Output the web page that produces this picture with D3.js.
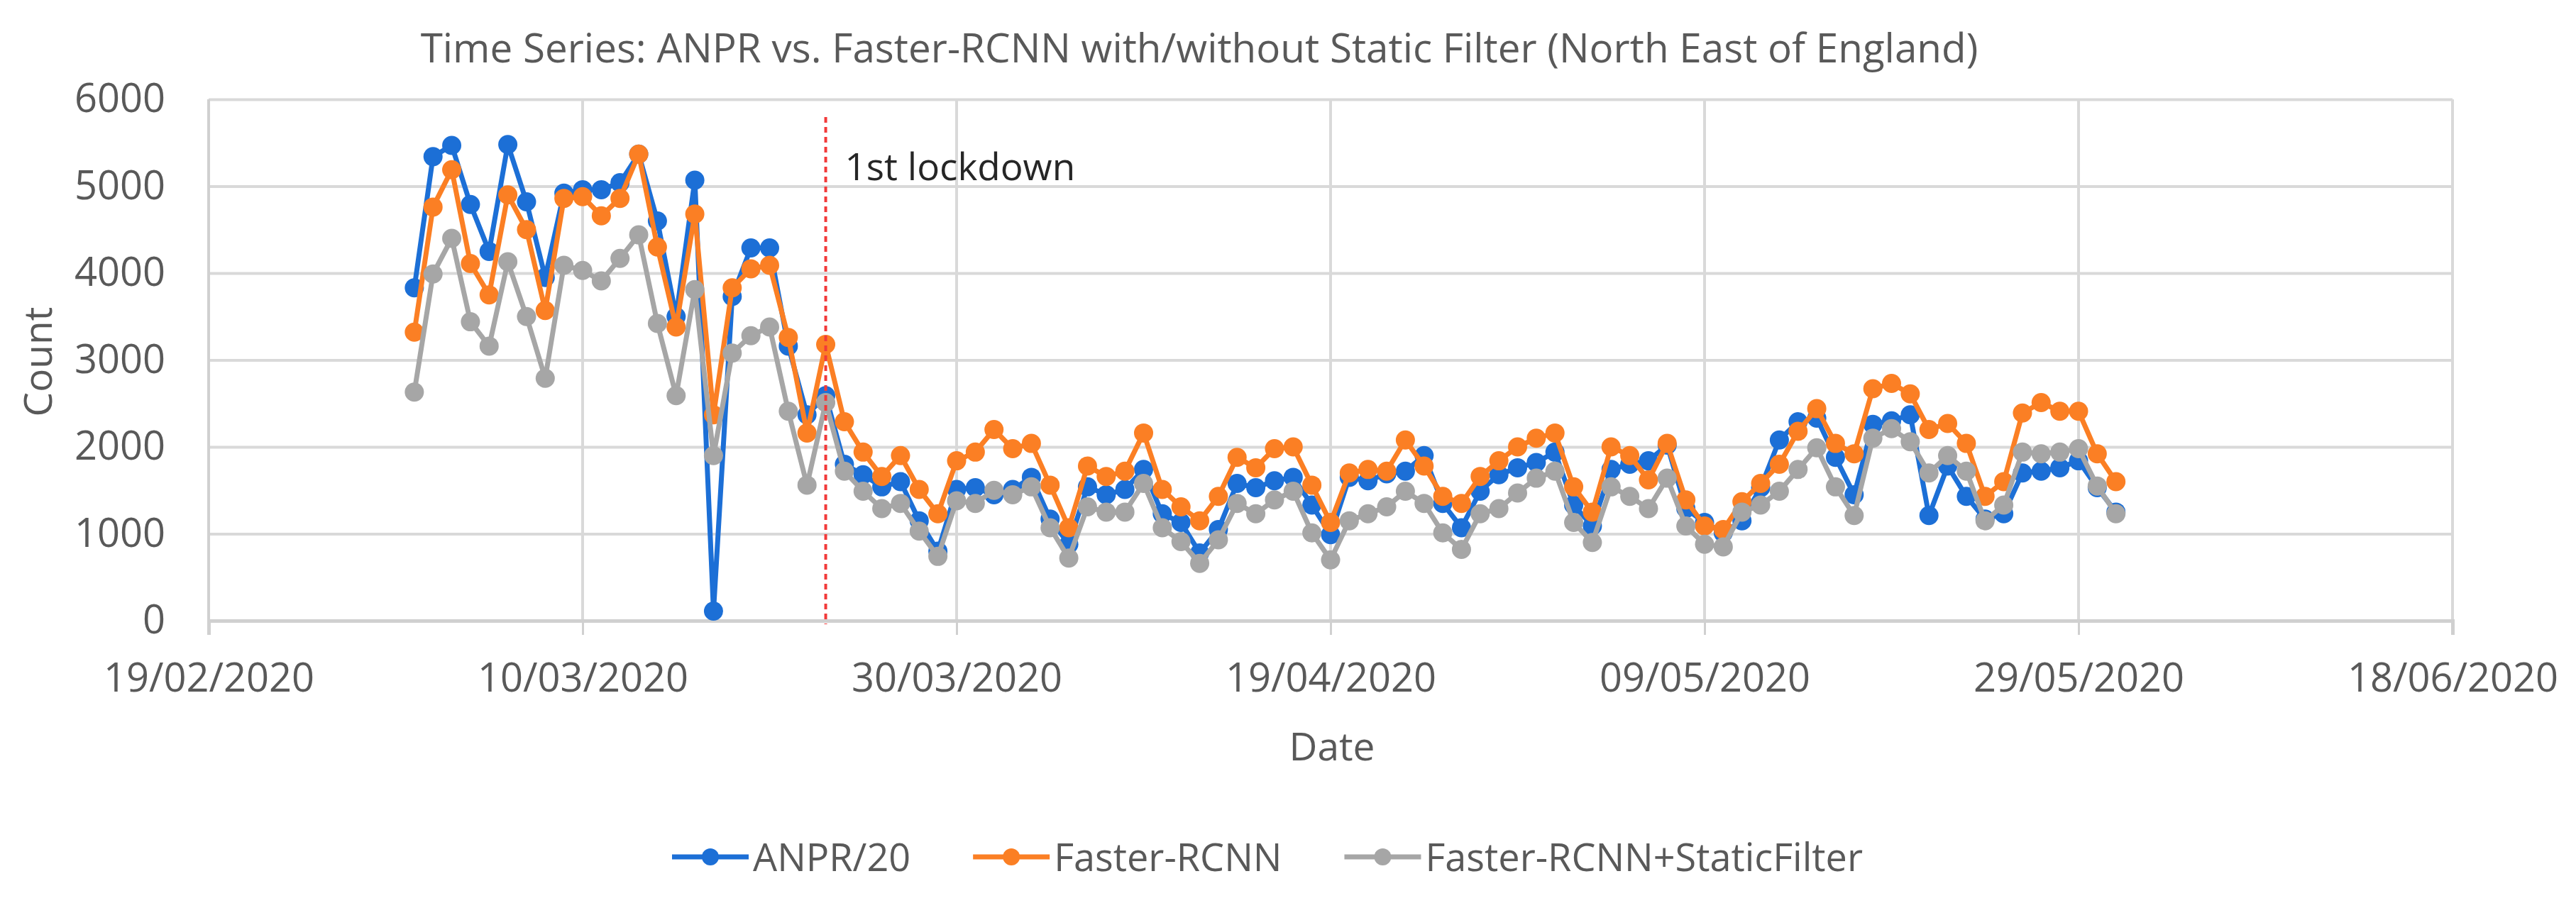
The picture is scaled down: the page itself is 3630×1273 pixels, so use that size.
<!DOCTYPE html>
<html>
<head>
<meta charset="utf-8">
<script src="https://cdn.jsdelivr.net/npm/d3@7"></script>
<style>
  html, body { margin: 0; padding: 0; background: #ffffff; }
  svg { display: block; }
  text { font-family: "Open Sans", "Noto Sans", sans-serif; }
</style>
</head>
<body>
<svg id="chart" width="3630" height="1273"></svg>
<script>
// ---------------- data ----------------
const chartTitle = "Time Series: ANPR vs. Faster-RCNN with/without Static Filter (North East of England)";
const xTitle = "Date";
const yTitle = "Count";
const firstDay = "01/03/2020";
const lastDay = "31/05/2020";
const xTickLabels = ["19/02/2020", "10/03/2020", "30/03/2020", "19/04/2020", "09/05/2020", "29/05/2020", "18/06/2020"];
const yTickValues = [0, 1000, 2000, 3000, 4000, 5000, 6000];
const lockdownDay = "23/03/2020";
const lockdownLabel = "1st lockdown";
const seriesNames = ["ANPR/20", "Faster-RCNN", "Faster-RCNN+StaticFilter"];

// daily values 01/03/2020 .. 31/05/2020
const anpr = [
  3830, 5340, 5470, 4790, 4250, 5480, 4820, 3950, 4920, 4960,
  4960, 5040, 5370, 4600, 3500, 5070, 110, 3730, 4290, 4290,
  3160, 2370, 2590, 1800, 1680, 1540, 1600, 1150, 800,
  1510, 1530, 1450, 1510, 1650, 1170, 880, 1540, 1450, 1510,
  1740, 1230, 1130, 780, 1050, 1580, 1530, 1610, 1650, 1330,
  990, 1650, 1610, 1690, 1720, 1900, 1350, 1070, 1490, 1680,
  1760, 1820, 1940, 1330, 1090, 1740, 1800, 1840, 2020, 1290,
  1130, 1010, 1150, 1530, 2080, 2290, 2330, 1880, 1450, 2260,
  2300, 2370, 1210, 1780, 1430, 1170, 1230, 1700, 1720, 1760,
  1840, 1530, 1250
];
const fasterRcnn = [
  3320, 4760, 5190, 4110, 3750, 4900, 4500, 3570, 4860, 4880,
  4660, 4860, 5370, 4300, 3380, 4680, 2370, 3830, 4050, 4090,
  3260, 2160, 3180, 2290, 1940, 1660, 1900, 1510, 1230,
  1840, 1940, 2200, 1980, 2040, 1560, 1070, 1780, 1660, 1720,
  2160, 1510, 1310, 1150, 1430, 1880, 1760, 1980, 2000, 1560,
  1130, 1700, 1740, 1720, 2080, 1780, 1430, 1350, 1660, 1840,
  2000, 2100, 2160, 1540, 1250, 2000, 1900, 1620, 2040, 1390,
  1090, 1050, 1370, 1580, 1800, 2180, 2440, 2040, 1920, 2670,
  2730, 2610, 2200, 2270, 2040, 1430, 1600, 2390, 2510, 2410,
  2410, 1920, 1600
];
const staticFilter = [
  2630, 3990, 4400, 3440, 3160, 4130, 3500, 2790, 4090, 4030,
  3910, 4170, 4440, 3420, 2590, 3810, 1900, 3080, 3280, 3380,
  2410, 1560, 2510, 1720, 1490, 1290, 1350, 1030, 740,
  1380, 1350, 1500, 1450, 1540, 1070, 720, 1310, 1250, 1250,
  1580, 1070, 910, 660, 930, 1350, 1230, 1390, 1490, 1010,
  700, 1150, 1230, 1310, 1490, 1350, 1010, 820, 1230, 1290,
  1470, 1640, 1720, 1130, 900, 1540, 1430, 1290, 1640, 1090,
  880, 850, 1250, 1330, 1490, 1740, 1990, 1540, 1210, 2100,
  2210, 2060, 1700, 1900, 1720, 1150, 1330, 1940, 1920, 1940,
  1980, 1550, 1230
];
const seriesColors = ["#1c6fd6", "#fb7f24", "#a6a6a6"];

// ---------------- chart ----------------
const parse = d3.utcParse("%d/%m/%Y");
const fmt = d3.utcFormat("%d/%m/%Y");
const days = d3.utcDay.range(parse(firstDay), d3.utcDay.offset(parse(lastDay), 1));
const seriesValues = [anpr, fasterRcnn, staticFilter];

const svg = d3.select("#chart");
svg.append("rect").attr("width", 3630).attr("height", 1273).attr("fill", "#ffffff");

const plot = { left: 294, right: 3456, top: 140, bottom: 875 };
const xTickDates = xTickLabels.map(parse);
const x = d3.scaleUtc().domain([xTickDates[0], xTickDates[xTickDates.length - 1]]).range([plot.left, plot.right]);
const y = d3.scaleLinear().domain([0, 6000]).range([plot.bottom, plot.top]);

const gridColor = "#d9d9d9";
const textColor = "#595959";

// horizontal gridlines + y labels
const yAxis = svg.append("g").attr("transform", `translate(${plot.left},0)`)
  .call(d3.axisLeft(y).tickValues(yTickValues).tickFormat(d3.format("d"))
    .tickSize(-(plot.right - plot.left)).tickPadding(61));
yAxis.select(".domain").remove();
yAxis.selectAll(".tick line").attr("stroke", gridColor).attr("stroke-width", 4);
yAxis.selectAll(".tick text").attr("fill", textColor).style("font-size", "56px");

// vertical gridlines
svg.append("g").selectAll("line").data(xTickDates).join("line")
  .attr("x1", d => x(d)).attr("x2", d => x(d))
  .attr("y1", plot.top).attr("y2", plot.bottom)
  .attr("stroke", gridColor).attr("stroke-width", 4);

// x axis
const xAxis = svg.append("g").attr("transform", `translate(0,${plot.bottom})`)
  .call(d3.axisBottom(x).tickValues(xTickDates).tickFormat(fmt).tickSize(20).tickPadding(40));
xAxis.select(".domain").attr("stroke", "#d0d0d0").attr("stroke-width", 5);
xAxis.selectAll(".tick line").attr("stroke", "#d0d0d0").attr("stroke-width", 3);
xAxis.selectAll(".tick text").attr("fill", textColor).style("font-size", "56px");

// y axis line
svg.append("line").attr("x1", plot.left).attr("x2", plot.left)
  .attr("y1", plot.top).attr("y2", plot.bottom + 20)
  .attr("stroke", "#d0d0d0").attr("stroke-width", 4);

// series
const line = d3.line().x((d, i) => x(days[i])).y(d => y(d));
seriesValues.forEach((vals, s) => {
  const g = svg.append("g");
  g.append("path").datum(vals).attr("d", line)
    .attr("fill", "none").attr("stroke", seriesColors[s]).attr("stroke-width", 7)
    .attr("stroke-linejoin", "round");
  g.selectAll("circle").data(vals).join("circle")
    .attr("cx", (d, i) => x(days[i])).attr("cy", d => y(d)).attr("r", 13.5)
    .attr("fill", seriesColors[s]);
});

// lockdown marker
const lx = x(parse(lockdownDay));
svg.append("line").attr("x1", lx).attr("x2", lx).attr("y1", 165).attr("y2", plot.bottom + 5)
  .attr("stroke", "#f23a3a").attr("stroke-width", 4).attr("stroke-dasharray", "8,6");
svg.append("text").attr("x", lx + 27).attr("y", 254).text(lockdownLabel)
  .attr("fill", "#262626").style("font-size", "53px");

// titles
function fitWidth(sel, target) {
  const w = sel.node().getComputedTextLength();
  const fs = parseFloat(sel.style("font-size"));
  sel.style("font-size", (fs * target / w) + "px");
}
const title = svg.append("text").attr("x", 1690).attr("y", 88).attr("text-anchor", "middle")
  .attr("fill", textColor).style("font-size", "52px").text(chartTitle);
fitWidth(title, 2195);

svg.append("text").attr("x", 1877).attr("y", 1072).attr("text-anchor", "middle")
  .attr("fill", textColor).style("font-size", "55px").text(xTitle);
svg.append("text").attr("transform", "translate(73,510) rotate(-90)").attr("text-anchor", "middle")
  .attr("fill", textColor).style("font-size", "55px").text(yTitle);

// legend
const legend = svg.append("g");
let cursor = 0;
seriesNames.forEach((name, s) => {
  const g = legend.append("g");
  g.append("line").attr("x1", 0).attr("x2", 108).attr("y1", 0).attr("y2", 0)
    .attr("stroke", seriesColors[s]).attr("stroke-width", 7);
  g.append("circle").attr("cx", 54).attr("cy", 0).attr("r", 12).attr("fill", seriesColors[s]);
  const t = g.append("text").attr("x", 114).attr("y", 20).attr("fill", textColor)
    .style("font-size", "54px").text(name);
  const w = 114 + t.node().getComputedTextLength();
  g.attr("transform", `translate(${cursor},0)`);
  cursor += w + 88;
});
const legendWidth = cursor - 88;
legend.attr("transform", `translate(${1786 - legendWidth / 2},1208)`);
</script>
</body>
</html>
